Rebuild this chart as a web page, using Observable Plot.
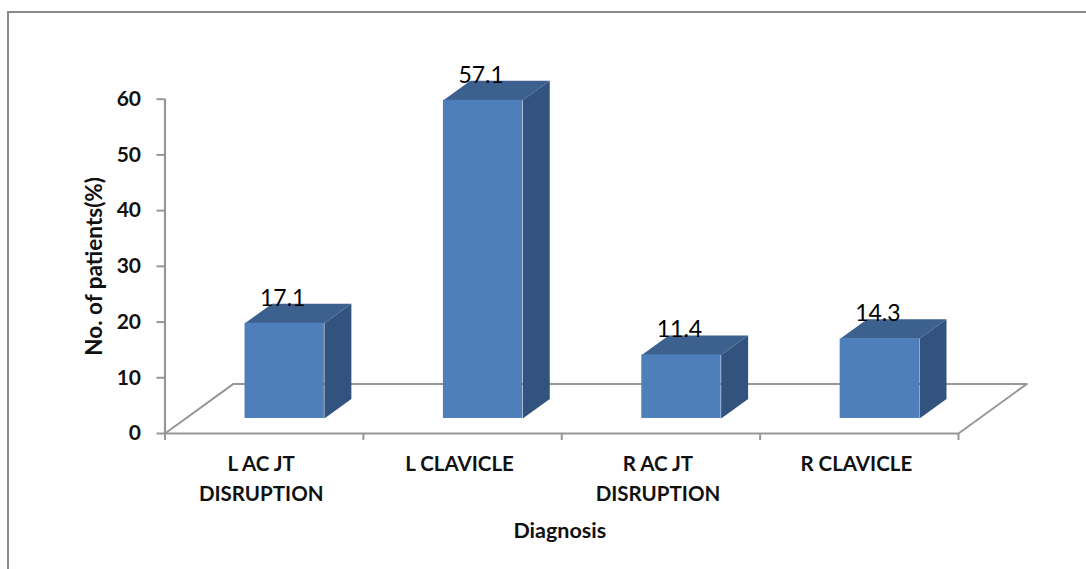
<!DOCTYPE html>
<html>
<head>
<meta charset="utf-8">
<script src="https://cdn.jsdelivr.net/npm/d3@7"></script>
<script src="https://cdn.jsdelivr.net/npm/@observablehq/plot@0.6"></script>
<style>
  html, body { margin: 0; padding: 0; background: #fff; overflow: hidden; }
  #chart { position: relative; width: 1086px; height: 569px; }
  #chart::before {
    content: ""; position: absolute; left: 7px; top: 11px; right: -4px; bottom: -4px;
    border-left: 2.5px solid #8a8a8a; border-top: 2.5px solid #8a8a8a;
  }
  #chart svg { position: absolute; left: 0; top: 0; }
</style>
</head>
<body>
<div id="chart"></div>
<script>
// Share of patients by diagnosis
const categories = [["L AC JT", "DISRUPTION"], ["L CLAVICLE"], ["R AC JT", "DISRUPTION"], ["R CLAVICLE"]];
const values = [17.1, 57.1, 11.4, 14.3];
const yTicks = [0, 10, 20, 30, 40, 50, 60];
const xTicks = [0, 1, 2, 3, 4];

// Oblique projection, in axis units
const floorDepthX = 0.345, floorDepthY = 8.9;
const barLeft = 0.4035, barWidth = 0.4;
const barDepthX = 0.136, barDepthY = 3.5;
const barBase = 2.7;

const colors = { front: "#4e7fbb", top: "#3c618f", side: "#32537d", axis: "#979797", text: "#111" };

const bars = values.map((v, i) => ({
  v, i,
  x1: i + barLeft,
  x2: i + barLeft + barWidth,
  y1: barBase,
  y2: barBase + v
}));

const topFaces = bars.flatMap(b => [
  { z: b.i, x: b.x1, y: b.y2 },
  { z: b.i, x: b.x2, y: b.y2 },
  { z: b.i, x: b.x2 + barDepthX, y: b.y2 + barDepthY },
  { z: b.i, x: b.x1 + barDepthX, y: b.y2 + barDepthY },
  { z: b.i, x: b.x1, y: b.y2 }
]);
const sideFaces = bars.flatMap(b => [
  { z: b.i, x: b.x2, y: b.y1 },
  { z: b.i, x: b.x2, y: b.y2 },
  { z: b.i, x: b.x2 + barDepthX, y: b.y2 + barDepthY },
  { z: b.i, x: b.x2 + barDepthX, y: b.y1 + barDepthY },
  { z: b.i, x: b.x2, y: b.y1 }
]);
const floorEdge = [
  { x: xTicks[0], y: 0 },
  { x: xTicks[0] + floorDepthX, y: floorDepthY },
  { x: xTicks[4] + floorDepthX, y: floorDepthY },
  { x: xTicks[4], y: 0 }
];
const categoryLabels = categories.map((lines, i) => ({ x: i + 0.5, text: lines.join("\n") }));

const font = "Lato, 'Open Sans', sans-serif";

const chart = Plot.plot({
  width: 1086,
  height: 569,
  marginLeft: 164.5,
  marginRight: 128,
  marginTop: 98.7,
  marginBottom: 136,
  style: { fontFamily: font, background: "transparent" },
  x: { type: "linear", domain: [0, 4] },
  y: { domain: [0, 60] },
  marks: [
    Plot.line(floorEdge, { x: "x", y: "y", stroke: colors.axis, strokeWidth: 2 }),
    Plot.ruleY([0], { stroke: colors.axis, strokeWidth: 2.2 }),
    Plot.ruleX([0], { y1: 0, y2: 60, stroke: colors.axis, strokeWidth: 2.2 }),
    Plot.axisY({
      ticks: yTicks, label: null, tickSize: 8, tickPadding: 16,
      stroke: colors.axis, strokeWidth: 2, fill: colors.text,
      fontSize: 21, fontWeight: "bold"
    }),
    Plot.axisX({
      ticks: xTicks, label: null, tickSize: 7, tickFormat: () => "",
      stroke: colors.axis, strokeWidth: 2
    }),
    Plot.line(topFaces, { x: "x", y: "y", z: "z", fill: colors.top, stroke: "none" }),
    Plot.line(sideFaces, { x: "x", y: "y", z: "z", fill: colors.side, stroke: "none" }),
    Plot.rect(bars, { x1: "x1", x2: "x2", y1: "y1", y2: "y2", fill: colors.front }),
    Plot.text(bars, {
      x: d => d.x1 + barWidth / 2, y: "y2", text: d => d.v.toFixed(1),
      dx: -2, dy: -25, fontSize: 23, fill: "#000"
    }),
    Plot.text(categoryLabels, {
      x: "x", text: "text", frameAnchor: "bottom", lineAnchor: "top", textAnchor: "middle",
      dx: -3, dy: 17, lineHeight: 1.44, fontSize: 20.5, fontWeight: "bold", fill: colors.text
    }),
    Plot.text(["Diagnosis"], {
      x: 2, frameAnchor: "bottom", textAnchor: "middle", dx: -2, dy: 104,
      fontSize: 21.5, fontWeight: "bold", fill: colors.text
    }),
    Plot.text(["No. of patients(%)"], {
      y: 30, frameAnchor: "left", textAnchor: "middle", rotate: -90, dx: -70,
      fontSize: 22.5, fontWeight: "bold", fill: colors.text
    })
  ]
});
document.getElementById("chart").appendChild(chart);
</script>
</body>
</html>
